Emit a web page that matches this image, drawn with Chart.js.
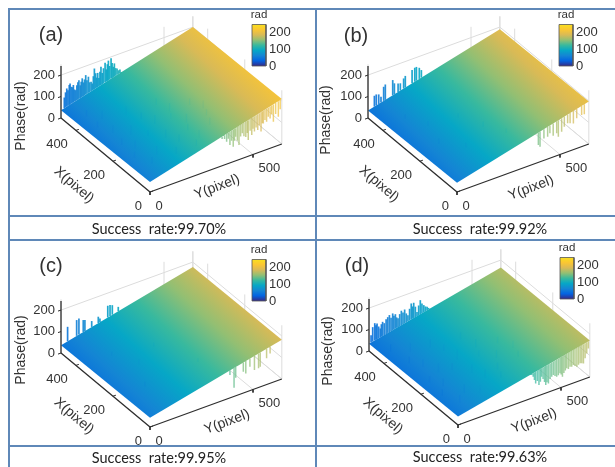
<!DOCTYPE html>
<html>
<head>
<meta charset="utf-8">
<script src="https://cdn.jsdelivr.net/npm/chart.js@4"></script>
<style>
    html, body { margin: 0; padding: 0; background: #fff; }
    body { position: relative; width: 615px; height: 467px; overflow: hidden; }
    canvas { position: absolute; filter: blur(0.45px); }
    .rule { position: absolute; background: #5f88b8; }
    .rate { position: absolute; width: 300px; text-align: center; font: 14.5px Lato, sans-serif; color: #222; white-space: pre; }
</style>
</head>
<body>
<canvas id="panelA" width="308" height="232" style="left:0;top:0"></canvas>
<canvas id="panelB" width="308" height="232" style="left:307px;top:0"></canvas>
<canvas id="panelC" width="308" height="232" style="left:0;top:235px"></canvas>
<canvas id="panelD" width="307" height="232" style="left:308px;top:233px"></canvas>
<script>
// axis ticks
const xTicks = [0, 200, 400];
const yTicks = [0, 500];
const zTicks = [0, 100, 200];
const barTicks = [0, 100, 200];

// panel names and success rates
const panelNames = ['(a)', '(b)', '(c)', '(d)'];
const successRates = ['99.70%', '99.92%', '99.95%', '99.63%'];

// phase of the plane at X=0,Y=0 / X=480,Y=0 / X=0,Y=640
const phaseFront = [46, 43, 43, 39];
const phaseLeft = [37, 35, 37, 34];
const phaseRight = [209, 198, 183, 170];

// failed pixels on the far edge (X=480): Y position and phase reached
const aBackY = [16, 22, 28, 34, 40, 44, 50, 56, 60, 66, 71, 77, 82, 87, 93, 98, 103, 109, 114, 120, 126, 133, 139, 146, 152, 157, 162, 168, 173, 178, 184, 189, 194, 200, 206, 214, 220, 225, 230, 236, 243, 248, 254, 259, 265, 272, 279, 286, 293];
const aBackZ = [90, 112, 128, 118, 140, 146, 128, 124, 133, 110, 105, 126, 138, 146, 120, 135, 149, 128, 140, 158, 132, 146, 118, 118, 108, 140, 174, 150, 128, 148, 122, 150, 171, 140, 160, 183, 150, 172, 187, 160, 193, 170, 150, 164, 140, 136, 125, 126, 100];
const bBackY = [31, 40, 52, 63, 76, 84, 120, 128, 146, 157, 173, 181, 214, 227, 235, 249, 259];
const bBackZ = [93, 96, 92, 77, 119, 127, 135, 117, 110, 107, 124, 133, 149, 155, 156, 147, 133];
const cBackY = [32, 76, 87, 108, 116, 149, 181, 189, 227, 238, 249, 278];
const cBackZ = [111, 127, 131, 116, 113, 97, 106, 95, 141, 141, 136, 118];
const dBackY = [10, 18, 28, 34, 39, 47, 55, 60, 66, 74, 83, 91, 99, 107, 115, 121, 128, 134, 141, 149, 157, 165, 173, 181, 189, 197, 205, 211, 217, 225, 233, 241, 249, 257, 266, 274, 282, 289, 296];
const dBackZ = [70, 105, 120, 108, 115, 98, 86, 104, 113, 104, 119, 126, 133, 118, 135, 122, 127, 110, 103, 120, 133, 122, 133, 112, 101, 128, 150, 134, 149, 128, 101, 128, 150, 132, 121, 112, 108, 100, 95];

// failed pixels on the near edge (X=0): Y position and phase reached
const aFrontY = [350, 356, 362, 372, 380, 388, 396, 404, 410, 416, 424, 432, 440, 448, 456, 465, 472, 477, 486, 494, 500, 507, 515, 523, 531, 539, 545, 550, 558, 566, 574, 583, 591, 599, 610, 623, 632];
const aFrontZ = [125, 141, 120, 104, 115, 83, 100, 70, 95, 112, 90, 68, 105, 117, 100, 94, 110, 75, 115, 93, 120, 104, 120, 106, 125, 93, 130, 127, 140, 129, 150, 139, 155, 118, 150, 133, 165];
const bFrontY = [395, 403, 422, 440, 451, 467, 484, 492, 508, 521, 537, 549, 565, 581, 605, 618];
const bFrontZ = [81, 70, 102, 104, 116, 99, 104, 85, 103, 122, 132, 128, 122, 140, 147, 146];
const cFrontY = [388, 408, 416, 453, 465, 485, 507, 527, 535, 566, 583];
const cFrontZ = [107, 40, 84, 99, 87, 111, 88, 89, 94, 122, 139];
const dFrontY = [350, 358, 365, 371, 377, 385, 393, 400, 406, 413, 420, 426, 432, 439, 447, 455, 463, 471, 479, 487, 495, 501, 507, 514, 521, 528, 536, 544, 552, 560, 568, 577, 585, 593, 601, 609, 617, 625, 633];
const dFrontZ = [122, 108, 97, 80, 62, 70, 49, 62, 83, 70, 54, 37, 48, 40, 58, 66, 71, 64, 57, 62, 68, 60, 48, 62, 72, 80, 74, 81, 78, 84, 76, 70, 76, 80, 78, 74, 95, 115, 135];

// failed pixels inside the plane: X, Y and how far they drop below it
const aPitX = [420, 380, 350, 300, 260, 230, 190, 150, 120, 90, 340, 280, 240, 200, 160, 110, 70, 300, 250, 210, 170, 130, 80, 50, 220, 180, 140, 100];
const aPitY = [70, 110, 60, 90, 140, 70, 100, 60, 140, 90, 190, 210, 240, 170, 220, 240, 190, 300, 320, 290, 330, 300, 310, 270, 390, 420, 400, 380];
const aPitD = [30, 38, 26, 34, 44, 30, 36, 28, 40, 32, 36, 30, 42, 28, 38, 34, 30, 32, 38, 26, 40, 30, 36, 28, 30, 36, 28, 32];
const bPitX = [380, 300, 210, 130, 260, 170, 90];
const bPitY = [90, 130, 100, 160, 240, 280, 320];
const bPitD = [22, 20, 26, 22, 20, 24, 20];
const cPitX = [340, 250, 150, 280, 120];
const cPitY = [120, 170, 110, 270, 340];
const cPitD = [20, 24, 22, 20, 18];
const dPitX = [430, 390, 340, 300, 250, 220, 180, 140, 110, 80, 360, 310, 260, 220, 170, 120, 70, 320, 260, 210, 170, 120, 80, 220, 170, 120];
const dPitY = [60, 120, 70, 100, 130, 60, 90, 50, 130, 80, 190, 210, 230, 170, 220, 240, 170, 300, 320, 290, 340, 300, 280, 390, 420, 400];
const dPitD = [34, 40, 30, 36, 42, 30, 36, 28, 40, 34, 38, 30, 44, 32, 36, 34, 30, 32, 38, 28, 34, 30, 28, 30, 32, 28];

const backYs = [aBackY, bBackY, cBackY, dBackY];
const backZs = [aBackZ, bBackZ, cBackZ, dBackZ];
const frontYs = [aFrontY, bFrontY, cFrontY, dFrontY];
const frontZs = [aFrontZ, bFrontZ, cFrontZ, dFrontZ];
const pitXs = [aPitX, bPitX, cPitX, dPitX];
const pitYs = [aPitY, bPitY, cPitY, dPitY];
const pitDs = [aPitD, bPitD, cPitD, dPitD];

// text positions move a little between panels
const phaseTitleX = [21, 19, 21, 20];
const phaseTitleY = [116, 120, 115, 118];
const xTitleX = [74, 72, 74, 75];
const xTitleY = [185, 184, 181, 183];
const yTitleX = [217, 224, 227, 226];
const yTitleY = [187, 188, 187, 188];
const nameX = [51, 49, 51, 49];
const nameY = [35, 36, 31, 33];

// parula colour map, phase range of the colour bar
const parulaStops = ['#352a87', '#0363e1', '#1485d4', '#06a7c6', '#38b99e', '#92bf73', '#d9ba56', '#fbc633', '#f9e01e'];
const phaseMax = 250;
const xMax = 480;
const yMax = 640;

// oblique view: floor origin, and how far one unit moves along each axis
const viewX0 = 150, viewY0 = 192;
const perX = [-0.1854, -0.154];
const perY = [0.206, -0.075];
const perZ = -0.215;

function project(X, Y, Z) {
    return {
        x: viewX0 + X * perX[0] + Y * perY[0],
        y: viewY0 + X * perX[1] + Y * perY[1] + Z * perZ
    };
}

function hexToRgb(hex) {
    return [1, 3, 5].map(i => parseInt(hex.slice(i, i + 2), 16));
}

// the printed plane looks a bit lighter than the colour bar at the low end
function shade(phase) {
    return phase * 0.95 + 14;
}

function parulaAt(phase, alpha) {
    const t = Math.min(Math.max(phase / phaseMax, 0), 1) * (parulaStops.length - 1);
    const i = Math.min(Math.floor(t), parulaStops.length - 2);
    const a = hexToRgb(parulaStops[i]);
    const b = hexToRgb(parulaStops[i + 1]);
    const c = a.map((v, k) => Math.round(v + (b[k] - v) * (t - i)));
    return `rgba(${c[0]},${c[1]},${c[2]},${alpha})`;
}

function addParulaStops(gradient) {
    parulaStops.forEach((c, i) => gradient.addColorStop(i / (parulaStops.length - 1), c));
    return gradient;
}

function line(a, b, color, width) {
    return {
        data: [a, b], borderColor: color, borderWidth: width,
        showLine: true, pointRadius: 0, fill: false
    };
}

function planeAt(n, X, Y) {
    return phaseFront[n] + X / xMax * (phaseLeft[n] - phaseFront[n]) + Y / yMax * (phaseRight[n] - phaseFront[n]);
}

// the plane is flat, so its colour is one linear gradient on the screen
function planeGradient(context, n) {
    const chart = context.chart;
    const sx = chart.scales.x, sy = chart.scales.y;
    const pixel = p => ({ x: sx.getPixelForValue(p.x), y: sy.getPixelForValue(p.y) });
    const f = pixel(project(0, 0, phaseFront[n]));
    const l = pixel(project(xMax, 0, phaseLeft[n]));
    const r = pixel(project(0, yMax, phaseRight[n]));
    const cf = shade(phaseFront[n]);
    const e1 = [l.x - f.x, l.y - f.y], e2 = [r.x - f.x, r.y - f.y];
    const d1 = shade(phaseLeft[n]) - cf, d2 = shade(phaseRight[n]) - cf;
    const det = e1[0] * e2[1] - e1[1] * e2[0];
    const gx = (d1 * e2[1] - d2 * e1[1]) / det;
    const gy = (e1[0] * d2 - e2[0] * d1) / det;
    const len2 = gx * gx + gy * gy;
    const s0 = (0 - cf) / len2, s1 = (phaseMax - cf) / len2;
    // scales have no size yet on the first pass
    if (!isFinite(f.x + gx * s0) || !isFinite(f.y + gy * s1)) return '#1485d4';
    return addParulaStops(chart.ctx.createLinearGradient(f.x + gx * s0, f.y + gy * s0, f.x + gx * s1, f.y + gy * s1));
}

function barGradient(context) {
    const chart = context.chart;
    const sy = chart.scales.y;
    const y0 = sy.getPixelForValue(barY(0)), y1 = sy.getPixelForValue(barY(phaseMax));
    if (!isFinite(y0) || !isFinite(y1)) return '#1485d4';
    return addParulaStops(chart.ctx.createLinearGradient(0, y0, 0, y1));
}

// colour bar sits at the top right of each panel
function barY(phase) {
    return 66 - phase * 0.166;
}

function buildDatasets(n) {
    const sets = [];
    const wall = '#dcdcdc', axis = '#2e2e2e';

    // back walls and floor grid first, everything else goes over them
    yTicks.concat(yMax).forEach(y => {
        sets.push(line(project(xMax, y, 0), project(xMax, y, phaseMax), wall, 1));
        sets.push(line(project(0, y, 0), project(xMax, y, 0), wall, 1));
    });
    xTicks.concat(xMax).forEach(x => {
        sets.push(line(project(x, yMax, 0), project(x, yMax, phaseMax), wall, 1));
    });
    sets.push(line(project(xMax, 0, 200), project(xMax, yMax, 200), wall, 1));
    zTicks.forEach(z => {
        sets.push(line(project(xMax, yMax, z), project(0, yMax, z), wall, 1));
    });

    // spikes behind the plane
    backYs[n].forEach((y, i) => {
        const base = planeAt(n, xMax, y);
        sets.push(line(project(xMax, y, base), project(xMax, y, backZs[n][i]), parulaAt(shade(base) * 0.9, 0.9), 1.7));
    });

    // the phase plane
    sets.push({
        data: [
            project(0, 0, phaseFront[n]),
            project(xMax, 0, phaseLeft[n]),
            project(xMax, yMax, planeAt(n, xMax, yMax)),
            project(0, yMax, phaseRight[n]),
            project(0, 0, phaseFront[n])
        ],
        showLine: true, pointRadius: 0, borderWidth: 0, fill: 'shape',
        backgroundColor: c => planeGradient(c, n)
    });

    // streaks on the plane
    pitXs[n].forEach((x, i) => {
        const y = pitYs[n][i];
        const base = planeAt(n, x, y);
        sets.push(line(project(x, y, base), project(x, y, base - pitDs[n][i]), parulaAt(shade(base) - 20, 0.2), 1.2));
    });

    // spikes hanging under the near edge
    frontYs[n].forEach((y, i) => {
        const base = planeAt(n, 0, y);
        sets.push(line(project(0, y, base), project(0, y, frontZs[n][i]), parulaAt(shade(base), 0.72), 1.5));
    });

    // axes with tick marks
    sets.push(line(project(xMax, 0, 0), project(xMax, 0, 242), axis, 1.3));
    sets.push(line(project(0, 0, 0), project(xMax, 0, 0), axis, 1.3));
    sets.push(line(project(0, 0, 0), project(0, yMax, 0), axis, 1.3));
    zTicks.forEach(z => {
        const p = project(xMax, 0, z);
        sets.push(line(p, { x: p.x - 3, y: p.y + 1 }, axis, 1));
    });
    xTicks.forEach(x => {
        const p = project(x, 0, 0);
        sets.push(line(p, { x: p.x + 3, y: p.y - 1 }, axis, 1));
    });
    yTicks.forEach(y => {
        const p = project(0, y, 0);
        sets.push(line(p, { x: p.x, y: p.y + 3 }, axis, 1));
    });

    // colour bar
    sets.push({
        data: [
            { x: 252, y: barY(0) }, { x: 252, y: barY(phaseMax) },
            { x: 266, y: barY(phaseMax) }, { x: 266, y: barY(0) }, { x: 252, y: barY(0) }
        ],
        showLine: true, pointRadius: 0, borderWidth: 0.8, borderColor: '#555', fill: 'shape',
        backgroundColor: barGradient
    });

    // chart.js paints the first dataset last
    return sets.reverse();
}

// labels are placed from the same projection as the marks
function labelsPlugin(n) {
    return {
        id: 'labels',
        afterDraw(chart) {
            const ctx = chart.ctx;
            const sx = chart.scales.x, sy = chart.scales.y;
            const put = (text, x, y, align, font, angle) => {
                ctx.save();
                ctx.translate(sx.getPixelForValue(x), sy.getPixelForValue(y));
                ctx.rotate((angle || 0) * Math.PI / 180);
                ctx.font = font;
                ctx.fillStyle = '#333333';
                ctx.textAlign = align;
                ctx.textBaseline = 'middle';
                ctx.fillText(text, 0, 0);
                ctx.restore();
            };
            const tickFont = '13px "Liberation Sans"';
            const titleFont = '14px "Liberation Sans"';

            zTicks.forEach(z => {
                const p = project(xMax, 0, z);
                put(String(z), p.x - 6, p.y, 'right', tickFont);
            });
            xTicks.forEach(x => {
                const p = project(x, 0, 0);
                put(String(x), p.x - 8, p.y + 14, 'right', tickFont);
            });
            yTicks.forEach(y => {
                const p = project(0, y, 0);
                put(String(y), p.x + 5.5, p.y + 14, 'left', tickFont);
            });
            barTicks.forEach(v => put(String(v), 269, barY(v), 'left', tickFont));
            put('rad', 259, 15, 'center', '11.5px "Liberation Sans"');

            put('Phase(rad)', phaseTitleX[n], phaseTitleY[n], 'center', titleFont, -90);
            put('X(pixel)', xTitleX[n], xTitleY[n], 'center', titleFont, 41);
            put('Y(pixel)', yTitleX[n], yTitleY[n], 'center', titleFont, -21);
            put(panelNames[n], nameX[n], nameY[n], 'center', '20px "Liberation Sans"');
        }
    };
}

['panelA', 'panelB', 'panelC', 'panelD'].forEach((id, n) => {
    const canvas = document.getElementById(id);
    new Chart(canvas.getContext('2d'), {
        type: 'scatter',
        data: { datasets: buildDatasets(n) },
        options: {
            responsive: false,
            animation: false,
            events: [],
            layout: { padding: 0 },
            plugins: { legend: { display: false }, tooltip: { enabled: false } },
            scales: {
                x: { display: false, min: 0, max: canvas.width },
                y: { display: false, min: 0, max: canvas.height, reverse: true }
            }
        },
        plugins: [labelsPlugin(n)]
    });
});

// frame lines and the success rate captions
[[8, 8, 607, 2], [8, 215, 607, 2], [8, 239, 607, 2], [8, 445, 607, 2], [8, 8, 2, 459], [315, 8, 2, 459]].forEach(r => {
    const d = document.createElement('div');
    d.className = 'rule';
    d.style.cssText = `left:${r[0]}px;top:${r[1]}px;width:${r[2]}px;height:${r[3]}px`;
    document.body.appendChild(d);
});
[[9, 229], [330, 229], [9, 458], [330, 457]].forEach((p, i) => {
    const d = document.createElement('div');
    d.className = 'rate';
    d.textContent = 'Success  rate:' + successRates[i];
    d.style.left = p[0] + 'px';
    d.style.top = (p[1] - 9) + 'px';
    document.body.appendChild(d);
});
</script>
</body>
</html>
